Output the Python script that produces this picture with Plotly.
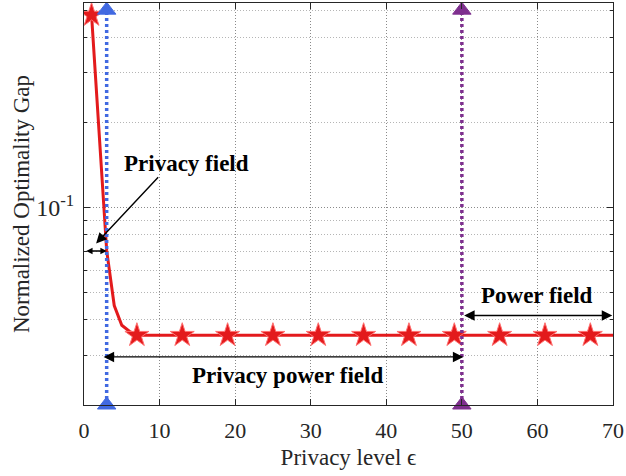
import math
import plotly.graph_objects as go

# ---- data ----
eps = [1, 2, 3, 4, 5, 6, 7, 13, 19, 25, 31, 37, 43, 49, 55, 61, 67, 70]
gap = [0.48, 0.18, 0.0705, 0.045, 0.0383, 0.0365, 0.0353, 0.0353, 0.0353,
       0.0353, 0.0353, 0.0353, 0.0353, 0.0353, 0.0353, 0.0353, 0.0353, 0.0353]
star_eps = [1, 7, 13, 19, 25, 31, 37, 43, 49, 55, 61, 67]

privacy_eps = 3
power_eps = 50
vline_y = [0.02, 0.5]

x_ticks = [0, 10, 20, 30, 40, 50, 60, 70]
y_major = [0.1]
y_major_text = ["10<sup>-1</sup>"]
y_minor = [0.02, 0.03, 0.04, 0.05, 0.06, 0.07, 0.08, 0.09, 0.2, 0.3, 0.4, 0.5]

RED = "#e31a1c"
BLUE = "#4169e1"
PURPLE = "#7e2f8e"
FONT = "Liberation Serif"
INK = "#262626"

star_gap = [g for e, g in zip(eps, gap) if e in star_eps]

fig = go.Figure()
fig.add_trace(go.Scatter(x=eps, y=gap, mode="lines",
                         line=dict(color=RED, width=3), showlegend=False))
fig.add_trace(go.Scatter(x=star_eps, y=star_gap, mode="markers",
                         marker=dict(symbol="star", size=18, color=RED,
                                     line=dict(color="#ff7070", width=1)),
                         showlegend=False))
for xv, col in [(privacy_eps, BLUE), (power_eps, PURPLE)]:
    fig.add_trace(go.Scatter(x=[xv, xv], y=vline_y, mode="lines+markers",
                             cliponaxis=False,
                             line=dict(color=col, width=3.5, dash="3px,3px"),
                             marker=dict(symbol="triangle-up", size=16, color=col,
                                         line=dict(color=col, width=1)),
                             showlegend=False))

L = math.log10
ann = []
# text labels
for txt, xv, yv in [("Privacy field", 13.5, 10 ** -0.845),
                    ("Privacy power field", 26.9, 10 ** -1.594),
                    ("Power field", 59.9, 10 ** -1.311)]:
    ann.append(dict(x=xv, y=L(yv), xref="x", yref="y", text=txt, showarrow=False,
                    font=dict(family=FONT, size=23, color="black", weight="bold")))

def arrow(x0, y0, x1, y1, both=False, size=1.5):
    d = dict(x=x1, y=L(y1), ax=x0, ay=L(y0), xref="x", yref="y",
             axref="x", ayref="y", text="", showarrow=True,
             arrowhead=2, arrowsize=size, arrowwidth=1.4, arrowcolor="black",
             startarrowhead=2, startarrowsize=size)
    if both:
        d["arrowside"] = "end+start"
    return d

ann.append(arrow(10.0, 10 ** -0.887, 1.6, 10 ** -1.127))
ann.append(arrow(0.1, 0.0702, 3.0, 0.0702, both=True, size=0.9))
ann.append(arrow(2.4, 0.0296, 50.2, 0.0296, both=True))
ann.append(arrow(50.1, 0.0415, 69.9, 0.0415, both=True))

fig.update_layout(
    width=626, height=476,
    margin=dict(l=84, r=10, t=2, b=71),
    paper_bgcolor="white", plot_bgcolor="white",
    font=dict(family=FONT, color=INK),
    annotations=ann,
)
fig.update_xaxes(range=[0, 70], tickvals=x_ticks, ticks="inside", ticklen=6,
                 tickcolor=INK, showline=True, linecolor=INK, linewidth=1,
                 mirror="ticks", showgrid=True, gridcolor="#8a8a8a",
                 griddash="1px,2px", gridwidth=1, zeroline=False,
                 ticklabelstandoff=6, ticklabeloverflow="allow",
                 tickfont=dict(size=22, color=INK),
                 title=dict(text="Privacy level ϵ", font=dict(size=23, color=INK),
                            standoff=6))
fig.update_yaxes(type="log", range=[L(0.02), L(0.53)], tickvals=y_major,
                 ticktext=y_major_text, ticks="inside", ticklen=6, tickcolor=INK,
                 showline=True, linecolor=INK, linewidth=1, mirror="ticks",
                 showgrid=True, gridcolor="#8a8a8a", griddash="1px,2px",
                 zeroline=False, tickfont=dict(size=24, color=INK),
                 ticklabelstandoff=4,
                 minor=dict(tickvals=y_minor, ticks="inside", ticklen=3,
                            tickcolor=INK, showgrid=True, gridcolor="#b5b5b5",
                            griddash="1px,2px"),
                 title=dict(text="Normalized Optimality Gap",
                            font=dict(size=23, color=INK), standoff=0))

fig.write_html("out.html")
